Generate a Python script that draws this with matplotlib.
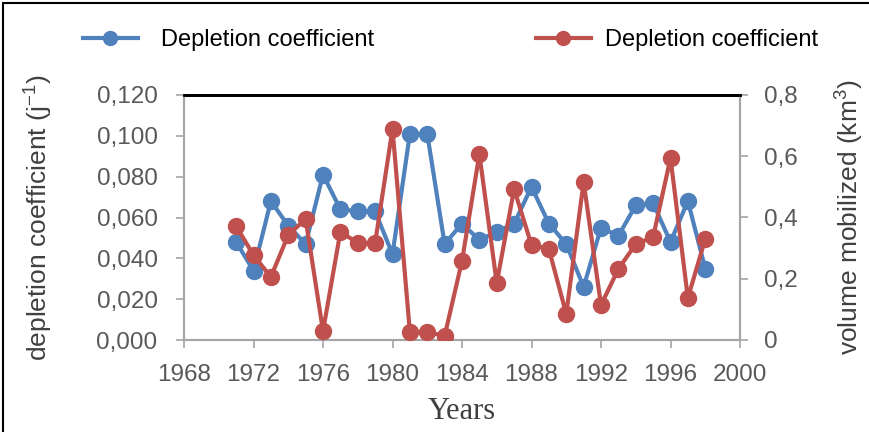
import matplotlib
matplotlib.use("Agg")
import matplotlib.pyplot as plt
from matplotlib.lines import Line2D
from matplotlib.ticker import FuncFormatter, MultipleLocator

years = list(range(1971, 1999))
depletion = [0.048, 0.034, 0.068, 0.056, 0.047, 0.081, 0.064, 0.063, 0.063, 0.042,
             0.101, 0.101, 0.047, 0.057, 0.049, 0.053, 0.057, 0.075, 0.057, 0.047,
             0.026, 0.055, 0.051, 0.066, 0.067, 0.048, 0.068, 0.035]
volume = [0.372, 0.277, 0.206, 0.343, 0.395, 0.029, 0.353, 0.317, 0.317, 0.689,
          0.026, 0.026, 0.013, 0.258, 0.607, 0.186, 0.493, 0.310, 0.297, 0.085,
          0.516, 0.114, 0.232, 0.313, 0.336, 0.594, 0.137, 0.330]
legend_labels = ["Depletion coefficient", "Depletion coefficient"]

BLUE = "#4F81BD"
RED = "#C0504D"
TICKC = "#595959"
SPINE = "#A6A6A6"

plt.rcParams['font.family'] = ['Liberation Sans', 'DejaVu Sans']
plt.rcParams['mathtext.default'] = 'regular'

fig = plt.figure(figsize=(8.7, 4.32), dpi=100)
ax = fig.add_axes([184/870, 1-340/432, 556/870, 245/432])
ax2 = ax.twinx()

ax.plot(years, depletion, color=BLUE, lw=3, marker='o', ms=11.5, zorder=3)
ax2.plot(years, volume, color=RED, lw=3, marker='o', ms=11.5, zorder=3)

ax.set_xlim(1968, 2000)
ax.set_ylim(0, 0.12)
ax2.set_ylim(0, 0.8)
ax.xaxis.set_major_locator(MultipleLocator(4))
ax.yaxis.set_major_locator(MultipleLocator(0.02))
ax2.yaxis.set_major_locator(MultipleLocator(0.2))
ax.yaxis.set_major_formatter(FuncFormatter(lambda v, p: f"{v:.3f}".replace('.', ',')))
ax2.yaxis.set_major_formatter(FuncFormatter(lambda v, p: "0" if abs(v) < 1e-9 else f"{v:.1f}".replace('.', ',')))

for a in (ax, ax2):
    for s in ['left', 'right', 'bottom']:
        a.spines[s].set_color(SPINE)
        a.spines[s].set_linewidth(1.5)
    a.spines['top'].set_color('black')
    a.spines['top'].set_linewidth(2)

ax.tick_params(axis='x', direction='out', length=6, width=1.2, color=SPINE,
               labelsize=17.5, labelcolor=TICKC, pad=11)
ax.tick_params(axis='y', direction='out', length=6, width=1.2, color=SPINE,
               labelsize=17.5, labelcolor=TICKC, pad=13)
ax2.tick_params(axis='y', direction='out', length=6, width=1.2, color=SPINE,
                labelsize=17.5, labelcolor=TICKC, pad=11)

ax.set_ylabel("depletion coefficient (j$^{-1}$)", fontsize=19, color="#404040", labelpad=30)
ax2.set_ylabel("volume mobilized (km$^{3}$)", fontsize=19, color="#404040", labelpad=26)
ax.set_xlabel("Years", fontsize=22, color="#404040", family=['Liberation Serif', 'DejaVu Serif'], labelpad=8)

h1 = Line2D([], [], color=BLUE, lw=3, marker='o', ms=10)
h2 = Line2D([], [], color=RED, lw=3, marker='o', ms=10)
fig.legend([h1], [legend_labels[0]], loc='center left', bbox_to_anchor=(62/870, 1-40/432),
           frameon=False, fontsize=17, handlelength=2.3, handletextpad=1.0)
fig.legend([h2], [legend_labels[1]], loc='center left', bbox_to_anchor=(515/870, 1-40/432),
           frameon=False, fontsize=17, handlelength=2.3, handletextpad=0.6)

# outer frame lines (left and top)
fig.add_artist(Line2D([3/870, 3/870], [0, 1-3/432], color='black', lw=1.5, transform=fig.transFigure))
fig.add_artist(Line2D([3/870, 1], [1-3/432, 1-3/432], color='black', lw=1.5, transform=fig.transFigure))

fig.savefig("out.png", dpi=100)
